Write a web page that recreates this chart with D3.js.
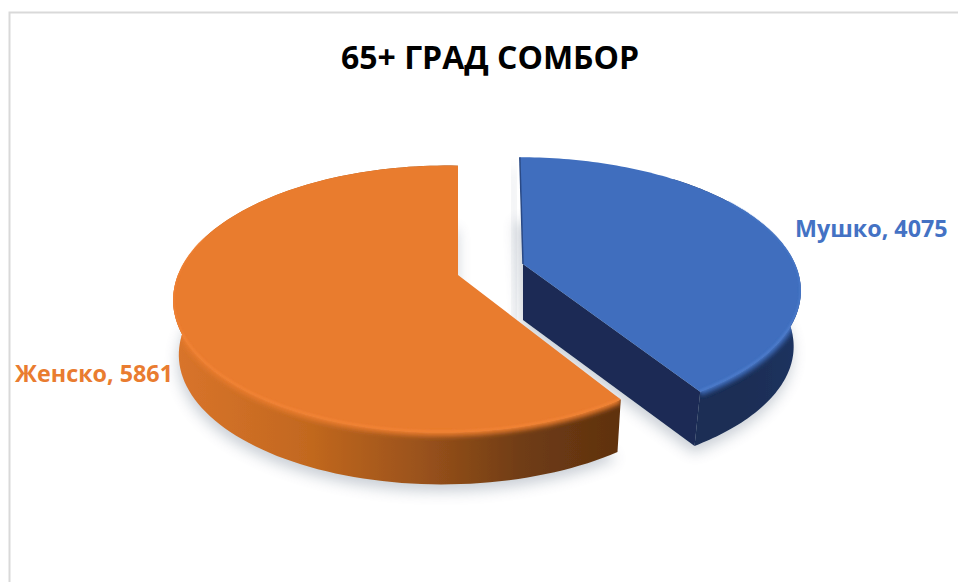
<!DOCTYPE html>
<html lang="en">
  <head>
    <meta charset="UTF-8" />
    <title>65+ ГРАД СОМБОР</title>
    <script src="https://d3js.org/d3.v7.min.js"></script>
    <style>
      html, body { margin: 0; padding: 0; background: #fff; }
      svg { display: block; }
      text { font-family: "Open Sans", sans-serif; font-weight: 700; }
    </style>
  </head>
  <body>
    <svg width="958" height="582"></svg>
    <script>
      const chartTitle = "65+ ГРАД СОМБОР";
      const categories = ["Мушко", "Женско"];
      const values = [4075, 5861];

      const width = 958;
      const height = 582;
      const svg = d3.select("svg").attr("width", width).attr("height", height);

      // one look per slice: apex on screen + perspective terms of the 3d pie
      const looks = [
        { ax: 523, ay: 264, f: 272, k: 127, p: 0.19, q: 0, skew: 0.03, depth: 56, shrink: 0.985, lowShift: -3,
          wallFrom: 0.7, frontFrom: 1.0, frontTo: 2.58,
          face: "#3F6EBE", edge: "#5B8BDA", wall: "url(#wallBlue)", label: "#4472C4", lx: 795, ly: 237 },
        { ax: 458, ay: 275, f: 266, k: 129, p: 0.18, q: 0.05, skew: 0, depth: 55, shrink: 0.98, lowShift: 0,
          wallFrom: 2.5, frontFrom: 2.58, frontTo: 5.0,
          face: "#E97B2E", edge: "#FB8E3E", wall: "url(#wallOrange)", label: "#E97C30", lx: 15, ly: 382 },
      ];

      const pie = d3.pie().sort(null).value(function (d) { return d; });
      const arcs = pie(values);

      function rim(look, a, low) {
        const w = 1 + look.p * Math.cos(a) + look.q * Math.sin(a);
        const dy = (-look.k * Math.cos(a)) / w;
        const dx = (look.f * Math.sin(a)) / w + look.skew * dy;
        const s = low ? look.shrink : 1;
        return [look.ax + s * dx + (low ? look.lowShift : 0), look.ay + s * dy + (low ? look.depth : 0)];
      }

      function arcPoints(look, a0, a1, low) {
        return d3.range(0, 121).map(function (i) {
          return rim(look, a0 + ((a1 - a0) * i) / 120, low);
        });
      }

      const line = d3.line();
      const defs = svg.append("defs");

      function blur(id, dev) {
        defs.append("filter")
          .attr("id", id)
          .attr("x", "-30%").attr("y", "-30%")
          .attr("width", "160%").attr("height", "160%")
          .append("feGaussianBlur")
          .attr("stdDeviation", dev);
      }
      blur("soft", 0.6);
      blur("bevel", 2.4);
      blur("glow", 1.1);
      blur("shadow", 7);

      function gradient(id, x1, x2, stops) {
        const g = defs.append("linearGradient")
          .attr("id", id)
          .attr("gradientUnits", "userSpaceOnUse")
          .attr("x1", x1).attr("x2", x2)
          .attr("y1", 0).attr("y2", 0);
        stops.forEach(function (s) {
          g.append("stop").attr("offset", s[0]).attr("stop-color", s[1]);
        });
      }
      gradient("wallOrange", 175, 622, [
        [0, "#D9742B"], [0.3, "#C2681F"], [0.55, "#9A521B"], [0.78, "#6F3C14"], [1, "#5F310F"],
      ]);
      gradient("wallBlue", 520, 802, [
        [0, "#1A2D55"], [0.8, "#1A2D55"], [1, "#1D3360"],
      ]);

      // chart frame
      svg.append("path")
        .attr("d", line([[9.5, height], [9.5, 12.5], [width, 12.5]]))
        .attr("fill", "none")
        .attr("stroke", "#D9D9D9")
        .attr("stroke-width", 2);

      const slices = arcs.map(function (d, i) {
        return { arc: d, look: looks[i], name: categories[i], value: values[i], id: i };
      });

      function wallPath(d) {
        // the back part of the wall sits behind the face, so start it later
        const from = Math.max(d.arc.startAngle, d.look.wallFrom);
        const top = arcPoints(d.look, from, d.arc.endAngle, false);
        const low = arcPoints(d.look, from, d.arc.endAngle, true).reverse();
        return line(top.concat(low)) + "Z";
      }
      function facePath(d) {
        const pts = arcPoints(d.look, d.arc.startAngle, d.arc.endAngle, false);
        return line([[d.look.ax, d.look.ay]].concat(pts)) + "Z";
      }

      // shoulder and lit edge must stay inside the slice outline
      slices.forEach(function (d) {
        const c = defs.append("clipPath").attr("id", "inside" + d.id);
        c.append("path").attr("d", wallPath(d));
        c.append("path").attr("d", facePath(d));
      });

      // soft shadow on the floor first
      svg.append("g")
        .selectAll("path")
        .data(slices)
        .enter()
        .append("path")
        .attr("d", function (d) {
          const pts = arcPoints(d.look, d.arc.startAngle, d.arc.endAngle, true);
          const apex = [d.look.ax, d.look.ay + d.look.depth];
          return line([apex].concat(pts)) + "Z";
        })
        .attr("transform", "translate(-1,7)")
        .attr("fill", "#5A6A80")
        .attr("opacity", 0.32)
        .attr("filter", "url(#shadow)");

      // blue also throws a little shadow left of its start edge
      svg.append("path")
        .attr("d", function () {
          const d = slices[0];
          return line([rim(d.look, 0, false), [d.look.ax, d.look.ay], [d.look.ax, d.look.ay + d.look.depth]]);
        })
        .attr("transform", "translate(-7,12)")
        .attr("fill", "none")
        .attr("stroke", "#5A6A80")
        .attr("stroke-width", 5)
        .attr("opacity", 0.22)
        .attr("filter", "url(#shadow)");

      const pieces = svg.append("g")
        .attr("filter", "url(#soft)")
        .selectAll("g")
        .data(slices)
        .enter()
        .append("g");

      // outer wall
      pieces.append("path")
        .attr("d", wallPath)
        .attr("fill", function (d) { return d.look.wall; });

      // cut face, only the blue slice turns one to the viewer
      pieces.filter(function (d) { return d.id === 0; })
        .append("path")
        .attr("d", function (d) {
          const e = d.arc.endAngle;
          return line([
            [d.look.ax, d.look.ay],
            rim(d.look, e, false),
            rim(d.look, e, true),
            [d.look.ax, d.look.ay + d.look.depth],
          ]) + "Z";
        })
        .attr("fill", "#1A2C54");

      // rounded shoulder between wall and face
      pieces.append("path")
        .attr("d", function (d) {
          return line(arcPoints(d.look, d.look.frontFrom, d.look.frontTo, false));
        })
        .attr("fill", "none")
        .attr("stroke", function (d) { return d.look.face; })
        .attr("stroke-width", 7)
        .attr("filter", "url(#bevel)")
        .attr("clip-path", function (d) { return "url(#inside" + d.id + ")"; });

      // top face
      pieces.append("path")
        .attr("d", facePath)
        .attr("fill", function (d) { return d.look.face; });

      // thin dark start edge of the blue slice
      pieces.filter(function (d) { return d.id === 0; })
        .append("path")
        .attr("d", function (d) {
          return line([rim(d.look, d.arc.startAngle, false), [d.look.ax, d.look.ay]]);
        })
        .attr("fill", "none")
        .attr("stroke", "#2A4A85")
        .attr("stroke-width", 1.5);

      // lit edge along the front of the face
      pieces.append("path")
        .attr("d", function (d) {
          return line(arcPoints(d.look, d.look.frontFrom, d.look.frontTo, false));
        })
        .attr("transform", "translate(0,-1)")
        .attr("fill", "none")
        .attr("stroke", function (d) { return d.look.edge; })
        .attr("stroke-width", 2)
        .attr("opacity", 0.6)
        .attr("filter", "url(#glow)")
        .attr("clip-path", function (d) { return "url(#inside" + d.id + ")"; });

      svg.append("text")
        .attr("x", 490)
        .attr("y", 69)
        .attr("text-anchor", "middle")
        .attr("font-size", 32)
        .attr("fill", "#000")
        .text(chartTitle);

      svg.selectAll(".label")
        .data(slices)
        .enter()
        .append("text")
        .attr("class", "label")
        .attr("x", function (d) { return d.look.lx; })
        .attr("y", function (d) { return d.look.ly; })
        .attr("font-size", 23.3)
        .attr("fill", function (d) { return d.look.label; })
        .text(function (d) { return d.name + ", " + d.value; });
    </script>
  </body>
</html>
